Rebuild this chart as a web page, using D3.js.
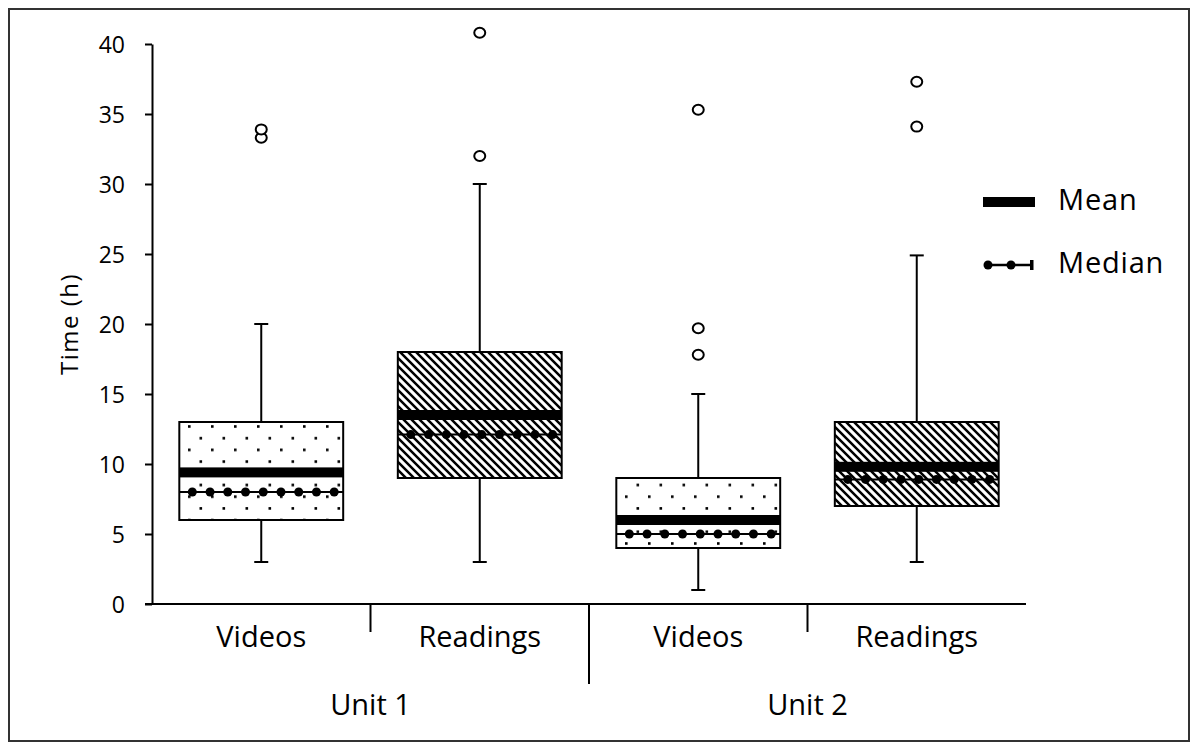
<!DOCTYPE html>
<html><head><meta charset="utf-8">
<script src="https://cdn.jsdelivr.net/npm/d3@7"></script>
<style>body{margin:0;background:#fff}svg{display:block}text{font-family:"Open Sans",sans-serif;fill:#000}</style>
</head><body>
<script>
// ---- data ----
const groups = ["Unit 1", "Unit 2"];
const categories = ["Videos", "Readings", "Videos", "Readings"];
const categoryGroup = [0, 0, 1, 1];
const fillPattern = ["dots", "hatch", "dots", "hatch"];
const whiskerLow = [3, 3, 1, 3];
const q1 = [6, 9, 4, 7];
const q3 = [13, 18, 9, 13];
const whiskerHigh = [20, 30, 15, 24.9];
const means = [9.4, 13.5, 6.0, 9.8];
const medians = [8.0, 12.1, 5.0, 8.9];
const outliers = [[33.3, 33.9], [32, 40.8], [17.8, 19.7, 35.3], [34.1, 37.3]];
const yTicks = [0, 5, 10, 15, 20, 25, 30, 35, 40];
const yTitle = "Time (h)";
const legendLabels = ["Mean", "Median"];

const W = 1191, H = 746;
const svg = d3.select("body").append("svg").attr("width", W).attr("height", H);

// patterns
const defs = svg.append("defs");
const pd = defs.append("pattern").attr("id", "dots").attr("patternUnits", "userSpaceOnUse")
  .attr("width", 23).attr("height", 23.4);
pd.append("rect").attr("width", 23).attr("height", 23.4).attr("fill", "#fff");
pd.append("rect").attr("x", 4).attr("y", 4).attr("width", 2.6).attr("height", 2.6).attr("fill", "#000");
pd.append("rect").attr("x", 15.5).attr("y", 15.7).attr("width", 2.6).attr("height", 2.6).attr("fill", "#000");
const ph = defs.append("pattern").attr("id", "hatch").attr("patternUnits", "userSpaceOnUse")
  .attr("width", 8).attr("height", 8);
ph.append("rect").attr("width", 8).attr("height", 8).attr("fill", "#fff");
ph.append("path").attr("d", "M-2,-2L10,10M-2,6L2,10M6,-2L10,2").attr("stroke", "#000").attr("stroke-width", 2.5);

// frame
svg.append("rect").attr("x", 9).attr("y", 9).attr("width", 1180).attr("height", 732)
  .attr("fill", "none").attr("stroke", "#333").attr("stroke-width", 2);

// scales
const y = d3.scaleLinear().domain([0, 40]).range([604, 44]);
const x = d3.scaleBand().domain(d3.range(categories.length)).range([152, 1026]).paddingInner(0).paddingOuter(0);
const gx = d3.scaleBand().domain(d3.range(groups.length)).range([152, 1026]);
const bw = x.bandwidth() * 0.75;
const cx = i => x(i) + x.bandwidth() / 2;

// y axis
const yAxis = svg.append("g").attr("transform", "translate(152,0)")
  .call(d3.axisLeft(y).tickValues(yTicks).tickSize(7).tickPadding(20).tickSizeOuter(0));
yAxis.attr("font-size", null).attr("font-family", null);
yAxis.select(".domain").attr("stroke", "#000").attr("stroke-width", 2);
yAxis.selectAll(".tick line").attr("stroke", "#000").attr("stroke-width", 2);
yAxis.selectAll(".tick text").style("font-size", "23px").attr("dy", "0.36em");

svg.append("text").attr("transform", "translate(78,324) rotate(-90)")
  .attr("text-anchor", "middle").style("font-size", "24px").style("letter-spacing", "1.5px").text(yTitle);

// x axis
svg.append("line").attr("x1", 145).attr("x2", 1026).attr("y1", y(0)).attr("y2", y(0))
  .attr("stroke", "#000").attr("stroke-width", 2);
// category separators
d3.range(1, categories.length).forEach(i => {
  const long = categoryGroup[i] !== categoryGroup[i - 1];
  svg.append("line").attr("x1", x(i)).attr("x2", x(i)).attr("y1", y(0)).attr("y2", long ? 684 : 632)
    .attr("stroke", "#000").attr("stroke-width", 2);
});
svg.selectAll(".cat").data(categories).enter().append("text")
  .attr("x", (d, i) => cx(i)).attr("y", 647).attr("text-anchor", "middle")
  .style("font-size", "29px").text(d => d);
svg.selectAll(".grp").data(groups).enter().append("text")
  .attr("x", (d, i) => gx(i) + gx.bandwidth() / 2).attr("y", 715).attr("text-anchor", "middle")
  .style("font-size", "29px").text(d => d);

// boxes
const g = svg.append("g");
categories.forEach((c, i) => {
  const c0 = cx(i), l = c0 - bw / 2;
  g.append("line").attr("x1", c0).attr("x2", c0).attr("y1", y(q3[i])).attr("y2", y(whiskerHigh[i]))
    .attr("stroke", "#000").attr("stroke-width", 2);
  g.append("line").attr("x1", c0).attr("x2", c0).attr("y1", y(q1[i])).attr("y2", y(whiskerLow[i]))
    .attr("stroke", "#000").attr("stroke-width", 2);
  [whiskerHigh[i], whiskerLow[i]].forEach(v => {
    g.append("line").attr("x1", c0 - 7).attr("x2", c0 + 7).attr("y1", y(v)).attr("y2", y(v))
      .attr("stroke", "#000").attr("stroke-width", 2);
  });
  g.append("rect").attr("x", l).attr("y", y(q3[i])).attr("width", bw).attr("height", y(q1[i]) - y(q3[i]))
    .attr("fill", `url(#${fillPattern[i]})`).attr("stroke", "#000").attr("stroke-width", 2);
  g.append("rect").attr("x", l).attr("y", y(means[i]) - 5).attr("width", bw).attr("height", 10).attr("fill", "#000");
  g.append("line").attr("x1", l).attr("x2", l + bw).attr("y1", y(medians[i])).attr("y2", y(medians[i]))
    .attr("stroke", "#000").attr("stroke-width", 2);
  const step = (bw - 22) / 8;
  g.selectAll(null).data(d3.range(9)).enter().append("circle")
    .attr("cx", k => l + 13 + k * step).attr("cy", y(medians[i])).attr("r", 4.5).attr("fill", "#000");
  g.selectAll(null).data(outliers[i]).enter().append("ellipse")
    .attr("cx", c0).attr("cy", d => y(d)).attr("rx", 5.5).attr("ry", 5)
    .attr("fill", "#fff").attr("stroke", "#000").attr("stroke-width", 2);
});

// legend
const lg = svg.append("g");
lg.append("rect").attr("x", 983).attr("y", 197).attr("width", 52).attr("height", 10).attr("fill", "#000");
lg.append("text").attr("x", 1058).attr("y", 210).style("font-size", "29px").style("letter-spacing", "0.8px").text(legendLabels[0]);
lg.append("line").attr("x1", 985).attr("x2", 1033).attr("y1", 265).attr("y2", 265).attr("stroke", "#000").attr("stroke-width", 2.5);
[988, 1011].forEach(px => lg.append("circle").attr("cx", px).attr("cy", 265).attr("r", 4.5).attr("fill", "#000"));
lg.append("rect").attr("x", 1030).attr("y", 260).attr("width", 3.5).attr("height", 10).attr("fill", "#000");
lg.append("text").attr("x", 1058).attr("y", 273).style("font-size", "29px").style("letter-spacing", "0.8px").text(legendLabels[1]);
</script>
</body></html>
